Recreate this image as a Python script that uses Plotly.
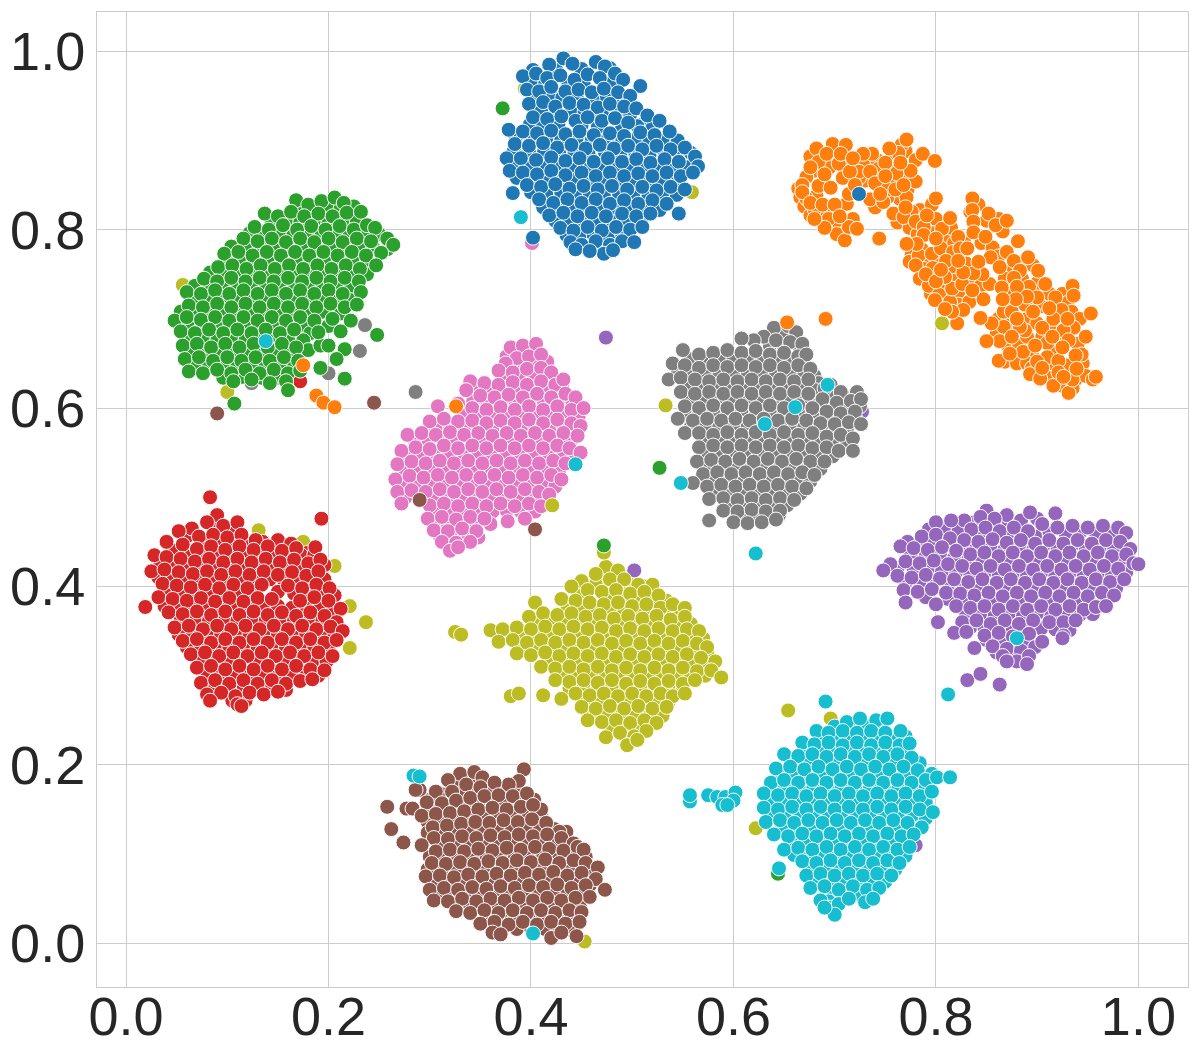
import plotly.graph_objects as go

# valores leidos a ojo de la figura, un grupo por clase
azul = [
    (.418,.985),(.432,.992),(.441,.986),(.464,.988),(.473,.983),(.392,.972),(.405,.975),(.416,.970),(.429,.973),(.443,.968),
    (.456,.974),(.468,.970),(.483,.975),(.491,.968),(.508,.961),(.396,.957),(.408,.955),(.420,.960),(.434,.955),(.447,.957),
    (.460,.954),(.472,.958),(.486,.954),(.498,.950),(.398,.941),(.412,.943),(.424,.938),(.438,.942),(.452,.940),(.466,.937),
    (.478,.941),(.492,.938),(.504,.936),(.402,.926),(.416,.924),(.430,.927),(.444,.922),(.456,.926),(.470,.922),(.483,.925),
    (.496,.920),(.515,.928),(.527,.922),(.378,.912),(.392,.910),(.406,.908),(.420,.911),(.434,.907),(.448,.910),(.462,.906),
    (.478,.908),(.492,.905),(.508,.909),(.522,.906),(.537,.910),(.384,.896),(.398,.894),(.412,.897),(.426,.892),(.440,.895),
    (.454,.891),(.468,.895),(.482,.891),(.496,.894),(.510,.890),(.524,.894),(.538,.890),(.552,.892),(.376,.880),(.390,.880),
    (.405,.878),(.420,.881),(.434,.877),(.448,.880),(.462,.876),(.476,.880),(.490,.876),(.504,.879),(.518,.875),(.532,.879),
    (.546,.876),(.562,.882),(.565,.871),(.379,.866),(.392,.864),(.406,.862),(.420,.866),(.434,.861),(.450,.864),(.464,.860),
    (.478,.864),(.492,.860),(.506,.863),(.520,.860),(.534,.864),(.548,.860),(.560,.864),(.396,.850),(.410,.848),(.424,.851),
    (.438,.846),(.452,.849),(.466,.845),(.480,.849),(.495,.845),(.510,.848),(.524,.844),(.538,.848),(.552,.845),(.382,.841),
    (.408,.834),(.422,.830),(.436,.834),(.450,.830),(.464,.834),(.478,.829),(.492,.833),(.506,.829),(.520,.833),(.534,.829),
    (.418,.816),(.432,.819),(.446,.815),(.460,.819),(.474,.815),(.490,.818),(.504,.815),(.518,.818),(.546,.818),(.402,.791),
    (.429,.802),(.442,.799),(.456,.803),(.470,.799),(.484,.803),(.498,.800),(.510,.803),(.439,.786),(.450,.783),(.464,.787),
    (.478,.783),(.490,.787),(.502,.786),(.472,.773),(.444,.778),(.458,.776),(.481,.777),(.724,.840),
]
azul_b = [
    (.402,.979),(.425,.979),(.450,.980),(.478,.981),(.400,.964),(.414,.964),(.437,.963),(.452,.964),(.480,.965),(.403,.948),
    (.418,.949),(.431,.948),(.445,.949),(.462,.947),(.475,.949),(.490,.946),(.410,.933),(.425,.932),(.440,.933),(.453,.932),
    (.470,.930),(.485,.932),(.498,.929),(.510,.918),(.399,.918),(.412,.917),(.427,.918),(.450,.917),(.466,.915),(.490,.914),
    (.505,.916),(.520,.914),(.385,.904),(.400,.903),(.415,.902),(.430,.901),(.445,.902),(.460,.900),(.475,.901),(.490,.899),
    (.503,.901),(.517,.899),(.530,.901),(.545,.900),(.383,.888),(.398,.887),(.413,.888),(.428,.885),(.443,.887),(.457,.884),
    (.473,.887),(.488,.884),(.503,.886),(.517,.883),(.532,.886),(.547,.884),(.558,.886),(.384,.872),(.398,.871),(.413,.870),
    (.427,.871),(.442,.869),(.457,.869),(.471,.871),(.485,.868),(.499,.870),(.513,.868),(.527,.870),(.541,.868),(.555,.870),
    (.386,.858),(.400,.856),(.415,.856),(.430,.854),(.444,.856),(.458,.853),(.472,.855),(.486,.853),(.500,.855),(.515,.853),
    (.529,.855),(.543,.853),(.400,.842),(.415,.840),(.430,.841),(.444,.838),(.458,.840),(.472,.838),(.487,.840),(.501,.837),
    (.516,.839),(.530,.837),(.544,.839),(.412,.825),(.428,.825),(.442,.823),(.456,.825),(.470,.822),(.484,.824),(.498,.822),
    (.512,.825),(.527,.822),(.424,.810),(.438,.808),(.452,.810),(.466,.807),(.480,.809),(.494,.807),(.509,.810),(.435,.794),
    (.448,.792),(.462,.794),(.476,.791),(.490,.795),(.466,.780),
]
naranja = [
    (.682,.891),(.698,.896),(.711,.895),(.684,.876),(.704,.874),(.672,.859),(.684,.849),(.696,.847),(.672,.835),(.680,.823),
    (.694,.812),(.702,.795),(.710,.788),(.714,.803),(.722,.801),(.712,.829),(.714,.840),(.724,.865),(.735,.865),(.737,.885),
    (.728,.885),(.715,.865),(.740,.852),(.752,.845),(.735,.834),(.748,.831),(.771,.836),(.780,.854),(.775,.866),(.761,.863),
    (.763,.886),(.754,.891),(.771,.901),(.787,.885),(.799,.877),(.758,.818),(.768,.814),(.780,.809),(.744,.790),(.668,.850),
    (.676,.870),(.690,.862),(.668,.842),(.676,.830),(.688,.828),(.700,.828),(.690,.802),(.680,.812),(.705,.815),(.692,.885),
    (.706,.885),(.718,.880),(.750,.875),(.765,.875),(.750,.860),(.760,.845),(.768,.850),(.745,.840),(.720,.850),(.770,.825),
    (.796,.828),(.800,.835),(.788,.803),(.788,.794),(.791,.816),(.806,.801),(.814,.813),(.822,.792),(.836,.835),(.836,.822),
    (.852,.818),(.837,.809),(.837,.797),(.849,.792),(.859,.805),(.870,.810),(.881,.787),(.870,.775),(.854,.769),(.863,.758),
    (.877,.765),(.883,.754),(.891,.769),(.901,.754),(.877,.746),(.892,.736),(.880,.736),(.908,.739),(.900,.724),(.888,.716),
    (.918,.724),(.935,.737),(.936,.726),(.924,.710),(.953,.706),(.916,.700),(.936,.690),(.926,.687),(.948,.680),(.931,.676),
    (.938,.659),(.910,.673),(.910,.657),(.888,.687),(.883,.691),(.867,.708),(.875,.708),(.896,.708),(.867,.691),(.863,.675),
    (.850,.675),(.855,.695),(.844,.701),(.821,.695),(.862,.653),(.886,.663),(.873,.661),(.893,.638),(.903,.633),(.916,.625),
    (.931,.617),(.935,.632),(.921,.653),(.921,.640),(.939,.644),(.958,.635),(.926,.635),(.900,.652),(.783,.771),(.781,.784),
    (.771,.784),(.796,.773),(.805,.779),(.817,.775),(.797,.757),(.816,.759),(.780,.760),(.784,.745),(.793,.737),(.803,.727),
    (.799,.721),(.814,.719),(.816,.734),(.826,.739),(.809,.747),(.833,.719),(.847,.722),(.853,.739),(.846,.750),(.837,.751),
    (.842,.764),(.827,.752),(.827,.710),(.816,.708),(.809,.711),(.836,.732),(.824,.779),(.831,.779),(.800,.790),(.810,.765),
    (.790,.750),(.800,.742),(.822,.765),(.805,.755),(.880,.700),(.890,.725),(.905,.690),(.912,.712),(.925,.668),(.898,.670),
    (.875,.680),(.905,.645),(.915,.680),(.930,.700),(.879,.722),(.865,.735),(.866,.722),(.653,.696),(.691,.700),(.188,.614),
    (.195,.606),(.206,.601),(.326,.602),(.175,.648),
]
naranja_b = [
    (.676,.882),(.690,.880),(.680,.866),(.695,.870),(.710,.880),(.722,.874),(.730,.875),(.742,.878),(.756,.880),(.770,.888),
    (.766,.895),(.780,.878),(.743,.868),(.757,.870),(.768,.858),(.730,.855),(.745,.848),(.758,.852),(.772,.845),(.764,.835),
    (.752,.836),(.740,.825),(.724,.858),(.708,.858),(.664,.846),(.666,.836),(.670,.826),(.682,.838),(.676,.816),(.686,.818),
    (.698,.820),(.696,.803),(.706,.803),(.702,.810),(.718,.812),(.784,.822),(.776,.820),(.762,.808),(.774,.802),(.782,.795),
    (.793,.808),(.800,.812),(.808,.790),(.796,.796),(.815,.802),(.818,.785),(.828,.785),(.786,.778),(.776,.772),(.790,.766),
    (.803,.768),(.812,.770),(.774,.764),(.788,.756),(.806,.740),(.820,.746),(.830,.762),(.822,.730),(.795,.728),(.808,.725),
    (.822,.716),(.838,.742),(.845,.738),(.838,.725),(.834,.820),(.842,.828),(.850,.810),(.862,.812),(.866,.798),(.845,.785),
    (.856,.780),(.862,.770),(.874,.755),(.886,.762),(.896,.760),(.868,.745),(.872,.730),(.885,.745),(.900,.740),(.912,.728),
    (.925,.728),(.930,.718),(.894,.722),(.904,.714),(.918,.712),(.934,.708),(.942,.700),(.872,.715),(.862,.700),(.874,.695),
    (.890,.700),(.900,.695),(.912,.692),(.928,.680),(.940,.672),(.905,.680),(.918,.668),(.895,.660),(.860,.683),(.871,.670),
    (.882,.672),(.890,.680),(.868,.652),(.880,.650),(.890,.650),(.912,.646),(.928,.648),(.938,.632),(.945,.650),(.912,.634),
    (.903,.642),(.895,.645),(.925,.625),(.935,.622),(.948,.636),(.944,.660),(.955,.632),
]
verde = [
    (.168,.833),(.180,.828),(.193,.832),(.206,.836),(.215,.830),(.137,.818),(.150,.815),(.163,.820),(.176,.815),(.190,.818),
    (.204,.815),(.218,.819),(.232,.820),(.127,.803),(.141,.800),(.155,.805),(.169,.800),(.183,.804),(.197,.800),(.211,.804),
    (.225,.800),(.238,.805),(.246,.802),(.116,.790),(.130,.787),(.144,.790),(.158,.786),(.172,.790),(.186,.786),(.200,.790),
    (.214,.786),(.228,.790),(.242,.787),(.258,.790),(.264,.783),(.097,.773),(.111,.775),(.125,.771),(.139,.775),(.153,.771),
    (.167,.775),(.181,.771),(.195,.775),(.209,.771),(.223,.775),(.237,.771),(.252,.774),(.091,.758),(.105,.760),(.119,.756),
    (.133,.760),(.147,.756),(.161,.760),(.175,.756),(.189,.760),(.203,.756),(.217,.760),(.231,.756),(.247,.760),(.077,.745),
    (.090,.742),(.104,.746),(.118,.742),(.132,.746),(.146,.742),(.160,.746),(.174,.742),(.188,.746),(.202,.742),(.216,.746),
    (.230,.742),(.060,.730),(.074,.728),(.088,.732),(.102,.728),(.116,.732),(.130,.728),(.144,.732),(.158,.728),(.172,.732),
    (.186,.728),(.200,.732),(.214,.728),(.232,.730),(.062,.715),(.076,.713),(.090,.717),(.104,.713),(.118,.717),(.132,.713),
    (.146,.717),(.160,.713),(.174,.717),(.188,.713),(.202,.717),(.216,.713),(.228,.716),(.048,.698),(.060,.702),(.074,.699),
    (.088,.702),(.102,.698),(.116,.702),(.130,.698),(.144,.702),(.158,.698),(.172,.702),(.186,.698),(.204,.700),(.222,.698),
    (.054,.686),(.068,.684),(.082,.688),(.096,.684),(.110,.688),(.124,.684),(.138,.688),(.152,.684),(.166,.688),(.190,.685),
    (.212,.686),(.056,.670),(.070,.672),(.084,.668),(.098,.672),(.112,.668),(.126,.672),(.140,.668),(.154,.672),(.168,.668),
    (.200,.670),(.216,.666),(.058,.655),(.072,.657),(.086,.653),(.100,.657),(.114,.653),(.128,.657),(.142,.653),(.156,.657),
    (.170,.653),(.208,.655),(.062,.641),(.076,.639),(.090,.643),(.104,.639),(.118,.643),(.132,.639),(.146,.643),(.160,.639),
    (.172,.642),(.192,.645),(.216,.633),(.248,.682),(.106,.630),(.124,.632),(.142,.628),(.158,.630),(.160,.620),(.107,.605),
    (.472,.446),(.527,.533),(.372,.936),(.644,.078),
]
verde_b = [
    (.174,.824),(.187,.824),(.200,.826),(.212,.824),(.225,.826),(.144,.808),(.158,.810),(.172,.808),(.186,.811),(.200,.808),
    (.214,.811),(.228,.810),(.122,.796),(.137,.794),(.151,.797),(.165,.793),(.179,.797),(.193,.794),(.207,.797),(.221,.794),
    (.235,.797),(.250,.795),(.104,.781),(.118,.781),(.132,.781),(.146,.781),(.160,.780),(.174,.782),(.188,.780),(.202,.782),
    (.216,.780),(.230,.782),(.244,.780),(.258,.778),(.098,.766),(.112,.766),(.126,.765),(.140,.767),(.154,.764),(.168,.766),
    (.182,.764),(.196,.766),(.210,.764),(.224,.766),(.238,.764),(.083,.752),(.097,.750),(.111,.752),(.125,.750),(.139,.752),
    (.153,.750),(.167,.752),(.181,.750),(.195,.752),(.209,.750),(.223,.751),(.238,.750),(.068,.737),(.082,.736),(.096,.738),
    (.110,.736),(.124,.738),(.138,.736),(.152,.738),(.166,.736),(.180,.738),(.194,.736),(.208,.738),(.222,.736),(.068,.722),
    (.082,.721),(.096,.723),(.110,.721),(.124,.723),(.138,.721),(.152,.723),(.166,.721),(.180,.723),(.194,.721),(.208,.723),
    (.222,.721),(.054,.708),(.068,.707),(.082,.709),(.096,.706),(.110,.708),(.124,.706),(.138,.708),(.152,.706),(.166,.708),
    (.180,.706),(.194,.708),(.212,.706),(.061,.692),(.075,.692),(.089,.693),(.103,.691),(.117,.693),(.131,.691),(.145,.693),
    (.159,.691),(.173,.693),(.182,.684),(.200,.692),(.062,.677),(.076,.678),(.090,.676),(.104,.678),(.118,.676),(.132,.678),
    (.146,.676),(.160,.678),(.175,.676),(.066,.664),(.080,.662),(.094,.664),(.108,.662),(.122,.664),(.136,.662),(.150,.664),
    (.164,.662),(.180,.665),(.192,.670),(.068,.648),(.082,.648),(.096,.648),(.110,.648),(.124,.648),(.138,.647),(.152,.648),
    (.166,.647),(.096,.634),(.115,.635),(.134,.634),(.150,.634),
]
rojo = [
    (.083,.500),(.193,.476),(.019,.377),(.090,.480),(.080,.472),(.096,.468),(.110,.472),(.065,.465),(.052,.462),(.072,.456),
    (.086,.458),(.100,.455),(.114,.458),(.128,.452),(.150,.452),(.163,.448),(.040,.450),(.056,.447),(.070,.442),(.084,.445),
    (.098,.441),(.112,.445),(.126,.441),(.140,.445),(.154,.440),(.168,.443),(.187,.444),(.028,.435),(.040,.433),(.054,.431),
    (.068,.428),(.082,.431),(.096,.427),(.110,.431),(.124,.427),(.138,.431),(.152,.427),(.166,.430),(.180,.426),(.192,.430),
    (.025,.417),(.038,.419),(.052,.416),(.066,.414),(.080,.417),(.094,.413),(.108,.417),(.122,.413),(.136,.417),(.150,.413),
    (.164,.416),(.178,.412),(.190,.417),(.036,.403),(.050,.401),(.064,.399),(.078,.402),(.092,.398),(.106,.402),(.120,.398),
    (.134,.402),(.160,.401),(.174,.398),(.188,.402),(.201,.398),(.032,.388),(.046,.386),(.060,.384),(.074,.387),(.088,.383),
    (.102,.387),(.116,.383),(.130,.387),(.144,.386),(.172,.384),(.186,.388),(.200,.384),(.212,.375),(.042,.371),(.056,.369),
    (.070,.372),(.084,.368),(.098,.372),(.112,.368),(.126,.372),(.140,.368),(.154,.371),(.168,.367),(.182,.371),(.196,.367),
    (.208,.360),(.048,.354),(.062,.356),(.076,.352),(.090,.356),(.104,.352),(.118,.356),(.132,.352),(.146,.356),(.160,.352),
    (.174,.356),(.188,.352),(.202,.355),(.214,.350),(.056,.339),(.070,.341),(.084,.337),(.098,.341),(.112,.337),(.126,.341),
    (.140,.337),(.154,.341),(.168,.337),(.182,.341),(.196,.337),(.208,.340),(.064,.324),(.078,.326),(.092,.322),(.106,.326),
    (.120,.322),(.134,.326),(.148,.322),(.162,.326),(.176,.322),(.190,.326),(.204,.322),(.070,.309),(.084,.311),(.098,.307),
    (.112,.311),(.126,.307),(.140,.311),(.154,.307),(.168,.311),(.182,.307),(.196,.306),(.074,.292),(.088,.295),(.102,.291),
    (.116,.295),(.130,.291),(.144,.295),(.158,.291),(.172,.294),(.184,.296),(.080,.279),(.094,.281),(.108,.277),(.122,.281),
    (.136,.279),(.150,.282),(.083,.272),(.110,.268),(.114,.266),(.172,.630),
]
rojo_b = [
    (.088,.465),(.104,.464),(.060,.456),(.079,.450),(.093,.450),(.107,.449),(.121,.449),(.135,.450),(.147,.446),(.160,.438),
    (.180,.438),(.048,.440),(.062,.438),(.076,.436),(.090,.437),(.104,.436),(.118,.437),(.132,.436),(.146,.437),(.160,.422),
    (.173,.435),(.186,.436),(.034,.426),(.047,.424),(.060,.422),(.074,.422),(.088,.423),(.102,.421),(.116,.423),(.130,.421),
    (.144,.423),(.172,.421),(.184,.420),(.196,.424),(.032,.410),(.045,.410),(.058,.408),(.072,.408),(.086,.408),(.100,.408),
    (.114,.408),(.128,.407),(.142,.408),(.156,.407),(.170,.406),(.182,.406),(.196,.408),(.040,.394),(.054,.392),(.068,.393),
    (.082,.393),(.096,.392),(.110,.393),(.124,.392),(.150,.394),(.166,.392),(.180,.394),(.194,.392),(.206,.390),(.038,.378),
    (.052,.378),(.066,.378),(.080,.378),(.094,.378),(.108,.378),(.122,.378),(.136,.378),(.150,.378),(.164,.376),(.178,.378),
    (.192,.378),(.204,.374),(.054,.362),(.068,.362),(.082,.362),(.096,.364),(.110,.362),(.124,.363),(.138,.362),(.152,.364),
    (.166,.362),(.180,.363),(.194,.362),(.052,.346),(.066,.347),(.080,.346),(.094,.347),(.108,.346),(.122,.347),(.136,.346),
    (.150,.347),(.164,.346),(.178,.347),(.192,.346),(.206,.346),(.060,.332),(.074,.332),(.088,.332),(.102,.332),(.116,.331),
    (.130,.332),(.144,.331),(.158,.332),(.172,.331),(.186,.332),(.200,.331),(.072,.318),(.086,.317),(.100,.317),(.114,.317),
    (.128,.316),(.142,.317),(.156,.316),(.170,.317),(.184,.316),(.198,.316),(.080,.302),(.094,.301),(.108,.301),(.122,.300),
    (.136,.301),(.150,.300),(.164,.301),(.178,.300),(.190,.300),(.088,.287),(.102,.285),(.116,.285),(.130,.285),(.144,.286),
    (.158,.284),(.105,.272),(.118,.272),
]
morado = [
    (.850,.485),(.870,.480),(.844,.478),(.858,.476),(.884,.474),(.893,.483),(.918,.482),(.905,.470),(.828,.474),(.815,.474),
    (.800,.472),(.835,.464),(.849,.466),(.863,.462),(.877,.466),(.891,.462),(.920,.466),(.935,.468),(.950,.466),(.965,.468),
    (.980,.466),(.988,.460),(.786,.456),(.800,.458),(.814,.454),(.828,.452),(.842,.450),(.856,.453),(.870,.449),(.884,.452),
    (.898,.448),(.912,.452),(.926,.448),(.940,.452),(.954,.448),(.968,.452),(.982,.450),(.992,.442),(.765,.445),(.778,.443),
    (.792,.441),(.806,.444),(.820,.440),(.834,.436),(.848,.438),(.862,.434),(.876,.438),(.890,.434),(.904,.438),(.918,.434),
    (.932,.438),(.946,.434),(.960,.438),(.974,.434),(.988,.436),(.755,.425),(.770,.428),(.784,.426),(.798,.429),(.812,.425),
    (.826,.423),(.840,.420),(.854,.423),(.868,.419),(.882,.423),(.896,.419),(.910,.423),(.924,.419),(.938,.423),(.952,.419),
    (.966,.423),(.980,.420),(.995,.426),(1.000,.425),(.748,.418),(.762,.412),(.776,.410),(.790,.413),(.804,.409),(.818,.408),
    (.832,.405),(.846,.408),(.860,.404),(.874,.408),(.888,.404),(.902,.408),(.916,.404),(.930,.408),(.944,.404),(.958,.408),
    (.972,.405),(.986,.408),(.768,.396),(.782,.394),(.796,.397),(.810,.393),(.824,.392),(.838,.390),(.852,.393),(.866,.389),
    (.880,.393),(.894,.389),(.908,.393),(.922,.389),(.936,.393),(.950,.389),(.964,.393),(.976,.390),(.770,.382),(.800,.380),
    (.820,.378),(.834,.376),(.848,.378),(.862,.374),(.876,.378),(.890,.374),(.904,.378),(.918,.374),(.932,.378),(.946,.374),
    (.958,.377),(.968,.378),(.802,.360),(.826,.360),(.840,.362),(.854,.358),(.868,.362),(.882,.358),(.896,.362),(.912,.360),
    (.926,.360),(.938,.362),(.818,.348),(.830,.349),(.848,.345),(.862,.348),(.876,.344),(.892,.347),(.926,.345),(.925,.342),
    (.838,.331),(.856,.333),(.870,.330),(.884,.328),(.898,.332),(.905,.338),(.866,.322),(.880,.316),(.892,.322),(.890,.313),
    (.870,.316),(.831,.295),(.844,.302),(.863,.290),(.474,.679),(.727,.596),(.780,.110),(.502,.418),
]
morado_b = [
    (.838,.472),(.856,.470),(.872,.472),(.900,.476),(.912,.462),(.928,.460),(.942,.460),(.958,.460),(.972,.460),(.822,.464),
    (.808,.466),(.793,.464),(.842,.458),(.856,.460),(.870,.457),(.884,.460),(.898,.456),(.906,.445),(.920,.444),(.934,.445),
    (.948,.442),(.962,.444),(.976,.444),(.772,.450),(.785,.449),(.798,.450),(.812,.447),(.826,.445),(.840,.444),(.854,.445),
    (.868,.442),(.882,.445),(.896,.441),(.775,.435),(.790,.434),(.804,.436),(.818,.432),(.832,.430),(.846,.429),(.860,.428),
    (.874,.431),(.888,.428),(.902,.431),(.916,.428),(.930,.431),(.944,.428),(.958,.430),(.972,.428),(.986,.428),(.762,.420),
    (.778,.419),(.792,.420),(.806,.417),(.820,.416),(.834,.414),(.848,.415),(.862,.412),(.876,.415),(.890,.412),(.904,.415),
    (.918,.412),(.932,.415),(.946,.412),(.960,.415),(.974,.413),(.988,.416),(.770,.404),(.784,.403),(.798,.405),(.812,.402),
    (.826,.400),(.840,.398),(.854,.400),(.868,.397),(.882,.400),(.896,.397),(.910,.400),(.924,.397),(.938,.400),(.952,.397),
    (.966,.400),(.978,.398),(.790,.388),(.812,.386),(.826,.384),(.840,.383),(.854,.385),(.868,.382),(.882,.385),(.896,.382),
    (.910,.385),(.924,.382),(.938,.385),(.952,.382),(.966,.385),(.830,.369),(.844,.370),(.858,.367),(.872,.370),(.886,.367),
    (.900,.370),(.914,.367),(.928,.368),(.942,.368),(.955,.369),(.834,.354),(.848,.353),(.862,.355),(.876,.352),(.890,.354),
    (.904,.353),(.918,.352),(.932,.351),(.850,.340),(.864,.340),(.878,.337),(.892,.338),(.876,.322),(.860,.326),(.886,.320),
]
marron = [
    (.330,.190),(.344,.192),(.352,.186),(.336,.178),(.318,.183),(.393,.195),(.388,.182),(.378,.178),(.364,.180),(.350,.175),
    (.322,.170),(.306,.170),(.290,.172),(.286,.172),(.258,.153),(.277,.151),(.283,.151),(.297,.158),(.312,.157),(.326,.160),
    (.340,.163),(.354,.165),(.368,.166),(.382,.165),(.396,.168),(.410,.150),(.292,.143),(.306,.145),(.320,.146),(.334,.148),
    (.348,.150),(.362,.152),(.376,.150),(.390,.153),(.402,.155),(.262,.128),(.274,.113),(.303,.130),(.317,.132),(.331,.134),
    (.345,.136),(.359,.135),(.373,.138),(.387,.136),(.401,.139),(.415,.135),(.428,.125),(.304,.118),(.318,.117),(.332,.120),
    (.346,.118),(.360,.121),(.374,.119),(.388,.122),(.402,.120),(.416,.122),(.430,.118),(.442,.112),(.292,.110),(.306,.103),
    (.320,.105),(.334,.103),(.348,.106),(.362,.104),(.376,.107),(.390,.105),(.404,.108),(.418,.106),(.432,.104),(.446,.108),
    (.452,.105),(.302,.090),(.316,.089),(.330,.091),(.344,.089),(.358,.092),(.372,.090),(.386,.093),(.400,.091),(.414,.094),
    (.428,.090),(.442,.093),(.454,.090),(.466,.085),(.296,.075),(.310,.076),(.324,.074),(.338,.077),(.352,.075),(.366,.078),
    (.380,.076),(.394,.079),(.408,.077),(.422,.080),(.436,.076),(.450,.079),(.464,.072),(.300,.060),(.314,.062),(.328,.060),
    (.342,.063),(.356,.061),(.370,.064),(.384,.062),(.398,.065),(.412,.063),(.426,.066),(.440,.062),(.454,.065),(.473,.060),
    (.458,.052),(.304,.048),(.318,.047),(.332,.050),(.346,.047),(.360,.050),(.374,.048),(.388,.051),(.402,.048),(.416,.051),
    (.430,.048),(.444,.051),(.326,.036),(.340,.034),(.354,.037),(.368,.034),(.382,.037),(.396,.034),(.410,.037),(.424,.034),
    (.438,.037),(.450,.035),(.350,.022),(.364,.024),(.378,.021),(.392,.024),(.406,.021),(.420,.024),(.434,.022),(.448,.024),
    (.362,.012),(.370,.010),(.420,.006),(.430,.012),(.445,.008),(.290,.497),(.404,.464),(.090,.594),(.245,.606),
]
marron_b = [
    (.325,.180),(.343,.184),(.358,.172),(.372,.172),(.384,.172),(.312,.167),(.330,.168),(.345,.170),(.302,.162),(.319,.152),
    (.334,.155),(.348,.158),(.362,.158),(.375,.158),(.389,.160),(.403,.161),(.300,.150),(.313,.140),(.327,.141),(.341,.142),
    (.355,.144),(.369,.144),(.383,.144),(.397,.146),(.410,.142),(.298,.136),(.311,.125),(.325,.126),(.339,.127),(.353,.128),
    (.367,.129),(.381,.129),(.395,.130),(.409,.128),(.423,.128),(.435,.125),(.298,.124),(.312,.111),(.326,.112),(.340,.111),
    (.354,.113),(.368,.112),(.382,.114),(.396,.113),(.410,.114),(.424,.113),(.438,.110),(.300,.097),(.314,.097),(.328,.098),
    (.342,.097),(.356,.098),(.370,.098),(.384,.099),(.398,.099),(.412,.100),(.426,.098),(.440,.100),(.454,.097),(.298,.083),
    (.312,.083),(.326,.083),(.340,.083),(.354,.084),(.368,.084),(.382,.085),(.396,.085),(.410,.086),(.424,.085),(.438,.086),
    (.452,.084),(.462,.078),(.306,.068),(.320,.068),(.334,.069),(.348,.068),(.362,.070),(.376,.070),(.390,.071),(.404,.071),
    (.418,.072),(.432,.071),(.446,.072),(.458,.065),(.310,.054),(.324,.054),(.338,.056),(.352,.055),(.366,.057),(.380,.056),
    (.394,.058),(.408,.056),(.422,.058),(.436,.056),(.450,.057),(.326,.042),(.340,.042),(.354,.044),(.368,.042),(.382,.044),
    (.396,.042),(.410,.044),(.424,.041),(.438,.044),(.448,.042),(.356,.030),(.370,.028),(.384,.030),(.398,.028),(.412,.030),
    (.426,.028),(.440,.030),(.372,.017),(.386,.016),(.400,.017),(.414,.016),(.428,.017),(.440,.015),
]
rosa = [
    (.380,.668),(.392,.670),(.405,.672),(.386,.656),(.398,.658),(.410,.660),(.375,.650),(.368,.642),(.382,.640),(.396,.644),
    (.410,.645),(.420,.640),(.340,.630),(.354,.628),(.368,.626),(.382,.629),(.396,.626),(.410,.630),(.424,.626),(.432,.632),
    (.336,.620),(.350,.614),(.364,.612),(.378,.615),(.392,.612),(.406,.616),(.420,.612),(.434,.616),(.444,.612),(.328,.605),
    (.342,.600),(.356,.598),(.370,.601),(.384,.598),(.398,.602),(.412,.598),(.426,.602),(.440,.598),(.452,.600),(.308,.602),
    (.300,.585),(.314,.588),(.328,.585),(.342,.586),(.356,.583),(.370,.586),(.384,.583),(.398,.587),(.412,.583),(.426,.587),
    (.440,.583),(.449,.580),(.278,.570),(.292,.572),(.306,.570),(.320,.573),(.334,.570),(.348,.572),(.362,.569),(.376,.572),
    (.390,.569),(.404,.572),(.418,.569),(.432,.572),(.446,.569),(.272,.552),(.286,.556),(.300,.554),(.314,.558),(.328,.555),
    (.342,.558),(.356,.555),(.370,.558),(.384,.555),(.398,.558),(.412,.555),(.426,.558),(.438,.555),(.449,.550),(.268,.537),
    (.282,.540),(.296,.538),(.310,.541),(.324,.538),(.338,.541),(.352,.538),(.366,.541),(.380,.538),(.394,.541),(.408,.538),
    (.422,.541),(.434,.538),(.266,.520),(.280,.524),(.294,.522),(.308,.525),(.322,.522),(.336,.525),(.350,.522),(.364,.525),
    (.378,.522),(.392,.525),(.406,.522),(.420,.525),(.430,.520),(.268,.506),(.282,.508),(.296,.506),(.310,.509),(.324,.506),
    (.338,.509),(.352,.506),(.366,.509),(.380,.506),(.394,.509),(.408,.506),(.418,.503),(.272,.493),(.300,.491),(.314,.493),
    (.328,.490),(.342,.493),(.356,.490),(.370,.493),(.384,.490),(.398,.493),(.410,.490),(.298,.476),(.312,.478),(.326,.475),
    (.340,.478),(.354,.476),(.377,.473),(.394,.476),(.304,.463),(.318,.462),(.332,.465),(.346,.462),(.312,.450),(.326,.449),
    (.340,.450),(.320,.440),(.328,.444),(.401,.785),
]
rosa_b = [
    (.386,.664),(.400,.664),(.376,.658),(.392,.650),(.404,.650),(.416,.652),(.375,.635),(.389,.635),(.403,.636),(.417,.634),
    (.347,.622),(.361,.620),(.375,.622),(.389,.620),(.403,.622),(.417,.620),(.431,.622),(.343,.608),(.357,.606),(.371,.608),
    (.385,.606),(.399,.609),(.413,.606),(.427,.609),(.441,.606),(.335,.594),(.349,.592),(.363,.592),(.377,.594),(.391,.592),
    (.405,.595),(.419,.592),(.433,.594),(.447,.590),(.306,.578),(.320,.580),(.334,.578),(.348,.579),(.362,.577),(.376,.579),
    (.390,.577),(.404,.580),(.418,.577),(.432,.580),(.446,.577),(.285,.564),(.299,.563),(.313,.565),(.327,.563),(.341,.565),
    (.355,.563),(.369,.565),(.383,.563),(.397,.565),(.411,.563),(.425,.565),(.439,.563),(.278,.546),(.292,.547),(.306,.548),
    (.320,.549),(.334,.548),(.348,.548),(.362,.548),(.376,.548),(.390,.548),(.404,.548),(.418,.548),(.432,.546),(.444,.545),
    (.274,.530),(.288,.532),(.302,.531),(.316,.532),(.330,.530),(.344,.532),(.358,.530),(.372,.532),(.386,.530),(.400,.532),
    (.414,.530),(.428,.531),(.272,.514),(.286,.515),(.300,.514),(.314,.516),(.328,.514),(.342,.516),(.356,.514),(.370,.516),
    (.384,.514),(.398,.516),(.412,.514),(.424,.512),(.276,.500),(.290,.500),(.304,.499),(.318,.500),(.332,.498),(.346,.500),
    (.360,.498),(.374,.500),(.388,.498),(.402,.500),(.414,.497),(.306,.484),(.320,.484),(.334,.484),(.348,.485),(.362,.484),
    (.376,.485),(.390,.484),(.404,.484),(.305,.470),(.318,.470),(.332,.470),(.346,.470),(.360,.470),(.310,.456),(.324,.456),
    (.338,.457),(.348,.455),
]
gris = [
    (.640,.690),(.654,.692),(.662,.685),(.630,.680),(.620,.676),(.608,.678),(.642,.676),(.656,.674),(.668,.672),(.550,.665),
    (.566,.660),(.580,.662),(.594,.665),(.608,.662),(.622,.664),(.636,.660),(.650,.662),(.664,.658),(.672,.660),(.540,.650),
    (.552,.648),(.566,.645),(.580,.648),(.594,.646),(.608,.648),(.622,.646),(.636,.648),(.650,.645),(.664,.648),(.676,.644),
    (.536,.632),(.548,.634),(.562,.632),(.576,.630),(.590,.632),(.604,.630),(.618,.632),(.632,.630),(.646,.632),(.660,.630),
    (.674,.632),(.690,.622),(.706,.618),(.722,.618),(.548,.618),(.562,.616),(.576,.618),(.590,.616),(.604,.618),(.618,.616),
    (.632,.618),(.646,.616),(.660,.618),(.674,.616),(.688,.610),(.702,.606),(.716,.608),(.726,.610),(.552,.602),(.566,.600),
    (.580,.603),(.594,.600),(.608,.603),(.622,.600),(.636,.603),(.650,.600),(.664,.603),(.678,.600),(.692,.596),(.706,.594),
    (.720,.596),(.545,.588),(.560,.586),(.574,.588),(.588,.586),(.602,.588),(.616,.586),(.630,.588),(.644,.586),(.658,.588),
    (.672,.586),(.686,.583),(.700,.582),(.714,.584),(.726,.582),(.552,.572),(.566,.572),(.580,.570),(.594,.573),(.608,.570),
    (.622,.573),(.636,.570),(.650,.573),(.664,.570),(.678,.572),(.692,.568),(.706,.570),(.718,.566),(.566,.556),(.580,.558),
    (.594,.556),(.608,.558),(.622,.556),(.636,.558),(.650,.556),(.664,.558),(.678,.555),(.692,.556),(.704,.552),(.718,.552),
    (.564,.540),(.578,.542),(.592,.540),(.606,.543),(.620,.540),(.634,.543),(.648,.540),(.662,.543),(.676,.540),(.690,.540),
    (.570,.526),(.584,.528),(.598,.526),(.612,.528),(.626,.526),(.640,.528),(.654,.526),(.668,.528),(.680,.525),(.560,.516),
    (.574,.512),(.588,.514),(.602,.512),(.616,.514),(.630,.512),(.644,.514),(.658,.512),(.672,.510),(.576,.498),(.590,.499),
    (.604,.497),(.618,.499),(.632,.497),(.646,.499),(.660,.497),(.590,.485),(.604,.484),(.618,.486),(.632,.484),(.646,.485),
    (.576,.474),(.600,.472),(.614,.471),(.628,.472),(.642,.475),(.286,.618),(.236,.693),(.231,.664),(.200,.639),(.124,.628),
]
gris_b = [
    (.648,.684),(.636,.670),(.650,.668),(.666,.666),(.556,.655),(.572,.654),(.586,.656),(.600,.655),(.614,.656),(.628,.654),
    (.642,.655),(.656,.653),(.670,.652),(.680,.636),(.545,.642),(.558,.640),(.572,.638),(.586,.640),(.600,.638),(.614,.640),
    (.628,.638),(.642,.640),(.656,.638),(.670,.638),(.684,.628),(.696,.626),(.555,.625),(.569,.624),(.583,.625),(.597,.624),
    (.611,.625),(.625,.624),(.639,.625),(.653,.624),(.667,.624),(.681,.620),(.698,.612),(.712,.612),(.558,.609),(.572,.609),
    (.586,.610),(.600,.609),(.614,.610),(.628,.609),(.642,.610),(.656,.609),(.670,.609),(.684,.604),(.712,.600),(.725,.602),
    (.552,.594),(.566,.593),(.580,.595),(.594,.593),(.608,.595),(.622,.593),(.636,.595),(.650,.593),(.664,.595),(.678,.593),
    (.692,.589),(.707,.588),(.720,.589),(.558,.579),(.572,.580),(.586,.579),(.600,.580),(.614,.579),(.628,.580),(.642,.579),
    (.656,.580),(.670,.579),(.684,.577),(.698,.576),(.712,.576),(.572,.564),(.586,.564),(.600,.565),(.614,.564),(.628,.565),
    (.642,.564),(.656,.565),(.670,.564),(.684,.563),(.698,.562),(.712,.560),(.572,.549),(.586,.549),(.600,.550),(.614,.549),
    (.628,.550),(.642,.549),(.656,.550),(.670,.548),(.684,.548),(.698,.546),(.576,.534),(.590,.534),(.604,.535),(.618,.534),
    (.632,.535),(.646,.534),(.660,.535),(.674,.533),(.686,.532),(.580,.520),(.594,.520),(.608,.521),(.622,.520),(.636,.520),
    (.650,.519),(.664,.519),(.676,.518),(.582,.506),(.596,.505),(.610,.505),(.624,.505),(.638,.505),(.652,.505),(.666,.504),
    (.597,.491),(.611,.491),(.625,.491),(.639,.491),(.653,.491),(.606,.478),(.620,.478),(.634,.478),(.645,.480),
]
oliva = [
    (.474,.422),(.486,.418),(.464,.414),(.450,.406),(.478,.408),(.492,.408),(.506,.402),(.520,.402),(.440,.400),(.456,.396),
    (.470,.394),(.484,.396),(.498,.392),(.512,.394),(.526,.390),(.404,.382),(.430,.386),(.444,.384),(.458,.382),(.472,.380),
    (.486,.382),(.500,.378),(.514,.380),(.528,.376),(.540,.380),(.552,.376),(.398,.366),(.412,.370),(.426,.368),(.440,.370),
    (.454,.366),(.468,.368),(.482,.364),(.496,.367),(.510,.364),(.524,.367),(.538,.363),(.552,.366),(.360,.351),(.372,.352),
    (.386,.354),(.400,.352),(.414,.355),(.428,.352),(.442,.355),(.456,.352),(.470,.354),(.484,.350),(.498,.353),(.512,.350),
    (.526,.353),(.540,.350),(.554,.352),(.566,.350),(.368,.338),(.382,.340),(.396,.337),(.410,.340),(.424,.337),(.438,.340),
    (.452,.337),(.466,.340),(.480,.336),(.494,.339),(.508,.336),(.522,.339),(.536,.336),(.550,.339),(.564,.336),(.574,.332),
    (.386,.325),(.400,.323),(.414,.326),(.428,.322),(.442,.325),(.456,.322),(.470,.325),(.484,.321),(.498,.324),(.512,.321),
    (.526,.324),(.540,.321),(.554,.324),(.568,.320),(.582,.316),(.410,.310),(.424,.308),(.438,.310),(.452,.307),(.466,.310),
    (.480,.306),(.494,.309),(.508,.306),(.522,.309),(.536,.306),(.550,.309),(.564,.305),(.578,.306),(.588,.298),(.424,.295),
    (.438,.293),(.452,.295),(.466,.292),(.480,.295),(.494,.291),(.508,.294),(.522,.291),(.536,.294),(.550,.291),(.562,.295),
    (.380,.277),(.388,.280),(.412,.278),(.430,.274),(.444,.280),(.458,.278),(.472,.280),(.486,.277),(.500,.280),(.514,.277),
    (.528,.280),(.540,.277),(.552,.280),(.450,.265),(.464,.263),(.478,.266),(.492,.263),(.506,.266),(.520,.263),(.534,.265),
    (.456,.250),(.470,.248),(.484,.250),(.498,.247),(.512,.250),(.524,.247),(.474,.231),(.488,.236),(.502,.232),(.514,.238),
    (.495,.222),(.505,.228),(.533,.603),(.394,.958),(.559,.842),(.806,.695),(.056,.738),(.100,.618),(.325,.349),(.331,.346),
    (.131,.463),(.175,.450),(.206,.423),(.221,.378),(.237,.360),(.221,.331),(.472,.438),(.421,.491),(.654,.261),(.696,.252),
    (.622,.129),(.453,.002),
]
oliva_b = [
    (.470,.412),(.484,.410),(.498,.402),(.512,.400),(.450,.392),(.464,.402),(.478,.388),(.492,.386),(.506,.386),(.520,.384),
    (.534,.384),(.436,.378),(.450,.376),(.464,.374),(.478,.373),(.492,.372),(.506,.372),(.520,.372),(.534,.370),(.546,.370),
    (.406,.362),(.420,.361),(.434,.362),(.448,.360),(.462,.360),(.476,.359),(.490,.360),(.504,.358),(.518,.360),(.532,.358),
    (.546,.358),(.558,.358),(.376,.345),(.390,.346),(.404,.345),(.418,.346),(.432,.345),(.446,.346),(.460,.345),(.474,.346),
    (.488,.344),(.502,.345),(.516,.344),(.530,.345),(.544,.344),(.558,.345),(.570,.342),(.392,.331),(.406,.332),(.420,.331),
    (.434,.331),(.448,.331),(.462,.332),(.476,.330),(.490,.331),(.504,.329),(.518,.331),(.532,.329),(.546,.330),(.560,.329),
    (.574,.326),(.420,.317),(.434,.316),(.448,.316),(.462,.317),(.476,.315),(.490,.316),(.504,.315),(.518,.316),(.532,.315),
    (.546,.316),(.560,.314),(.574,.313),(.432,.302),(.446,.301),(.460,.302),(.474,.300),(.488,.301),(.502,.300),(.516,.301),
    (.530,.300),(.544,.300),(.558,.300),(.572,.300),(.438,.286),(.452,.287),(.466,.286),(.480,.287),(.494,.285),(.508,.286),
    (.522,.285),(.536,.286),(.550,.285),(.452,.272),(.466,.271),(.480,.272),(.494,.270),(.508,.272),(.522,.270),(.536,.271),
    (.462,.257),(.476,.256),(.490,.257),(.504,.255),(.518,.256),(.530,.255),(.480,.241),(.494,.241),(.508,.241),(.498,.231),
]
cian = [
    (.691,.271),(.700,.243),(.712,.248),(.725,.252),(.741,.250),(.752,.252),(.682,.238),(.694,.236),(.708,.238),(.722,.236),
    (.736,.238),(.750,.236),(.765,.238),(.668,.225),(.680,.223),(.694,.225),(.708,.222),(.722,.225),(.736,.222),(.750,.225),
    (.764,.222),(.774,.224),(.650,.212),(.664,.210),(.678,.212),(.692,.209),(.706,.212),(.720,.209),(.734,.212),(.748,.209),
    (.762,.212),(.776,.208),(.642,.196),(.656,.198),(.670,.195),(.684,.198),(.698,.195),(.712,.198),(.726,.195),(.740,.198),
    (.754,.195),(.768,.198),(.782,.194),(.637,.180),(.650,.183),(.664,.180),(.678,.183),(.692,.180),(.706,.183),(.720,.180),
    (.734,.183),(.748,.180),(.762,.183),(.776,.180),(.790,.183),(.801,.186),(.814,.186),(.630,.168),(.644,.166),(.658,.168),
    (.672,.165),(.686,.168),(.700,.165),(.714,.168),(.728,.165),(.742,.168),(.756,.165),(.770,.168),(.784,.165),(.796,.170),
    (.630,.152),(.644,.150),(.658,.153),(.672,.150),(.686,.153),(.700,.150),(.714,.153),(.728,.150),(.742,.153),(.756,.150),
    (.770,.153),(.784,.150),(.797,.147),(.632,.136),(.646,.138),(.660,.135),(.674,.138),(.688,.135),(.702,.138),(.716,.135),
    (.730,.138),(.744,.135),(.758,.138),(.772,.135),(.786,.130),(.640,.122),(.654,.120),(.668,.123),(.682,.120),(.696,.123),
    (.710,.120),(.724,.123),(.738,.120),(.752,.123),(.766,.120),(.778,.122),(.650,.105),(.664,.107),(.678,.105),(.692,.108),
    (.706,.105),(.720,.108),(.734,.105),(.748,.108),(.762,.105),(.774,.108),(.645,.084),(.668,.092),(.682,.090),(.696,.093),
    (.710,.090),(.724,.093),(.738,.090),(.752,.093),(.764,.090),(.672,.076),(.686,.078),(.700,.076),(.714,.078),(.728,.076),
    (.742,.078),(.756,.076),(.676,.062),(.690,.064),(.704,.060),(.718,.064),(.732,.060),(.744,.062),(.686,.048),(.696,.040),
    (.704,.044),(.714,.050),(.730,.046),(.738,.050),(.700,.032),(.690,.040),(.557,.159),(.557,.166),(.575,.166),(.584,.164),
    (.592,.164),(.602,.169),(.600,.160),(.589,.155),(.594,.155),(.284,.188),(.290,.187),(.402,.011),(.880,.342),(.812,.279),
    (.390,.814),(.138,.675),(.444,.537),(.548,.516),(.622,.437),(.693,.626),(.631,.582),(.661,.601),
]
cian_b = [
    (.706,.242),(.718,.242),(.732,.244),(.746,.243),(.688,.231),(.702,.230),(.715,.231),(.729,.230),(.743,.231),(.757,.230),
    (.770,.232),(.672,.218),(.686,.217),(.700,.218),(.714,.216),(.728,.218),(.742,.216),(.756,.218),(.770,.216),(.658,.204),
    (.672,.203),(.686,.204),(.700,.203),(.714,.204),(.728,.203),(.742,.204),(.756,.203),(.770,.203),(.784,.202),(.645,.189),
    (.658,.190),(.672,.188),(.686,.190),(.700,.188),(.714,.190),(.728,.188),(.742,.190),(.756,.188),(.770,.190),(.784,.187),
    (.796,.190),(.638,.174),(.651,.175),(.665,.173),(.679,.175),(.693,.173),(.707,.175),(.721,.173),(.735,.175),(.749,.173),
    (.763,.175),(.777,.173),(.790,.175),(.637,.160),(.651,.159),(.665,.160),(.679,.158),(.693,.160),(.707,.158),(.721,.160),
    (.735,.158),(.749,.160),(.763,.158),(.777,.160),(.790,.158),(.637,.144),(.651,.144),(.665,.144),(.679,.144),(.693,.144),
    (.707,.144),(.721,.144),(.735,.144),(.749,.144),(.763,.144),(.777,.144),(.790,.140),(.648,.129),(.662,.128),(.676,.130),
    (.690,.128),(.704,.130),(.718,.128),(.732,.130),(.746,.128),(.760,.130),(.774,.128),(.658,.113),(.672,.114),(.686,.113),
    (.700,.114),(.714,.113),(.728,.114),(.742,.113),(.756,.114),(.770,.113),(.660,.099),(.675,.098),(.689,.099),(.703,.098),
    (.717,.099),(.731,.098),(.745,.099),(.759,.098),(.770,.098),(.678,.084),(.692,.085),(.706,.084),(.720,.085),(.734,.084),
    (.748,.085),(.760,.083),(.682,.070),(.696,.070),(.710,.070),(.724,.070),(.738,.070),(.750,.069),(.692,.055),(.706,.053),
    (.722,.055),(.736,.056),(.694,.047),
]

# color tab10 por clase, dos tandas de puntos en cada una
clases = [
    ("rosa", rosa_b + rosa, "#e377c2"),
    ("morado", morado_b + morado, "#9467bd"),
    ("gris", gris_b + gris, "#7f7f7f"),
    ("oliva", oliva_b + oliva, "#bcbd22"),
    ("rojo", rojo_b + rojo, "#d62728"),
    ("verde", verde_b + verde, "#2ca02c"),
    ("naranja", naranja_b + naranja, "#ff7f0e"),
    ("marron", marron_b + marron, "#8c564b"),
    ("azul", azul_b + azul, "#1f77b4"),
    ("cian", cian_b + cian, "#17becf"),
]

fig = go.Figure()
for nombre, puntos, color in clases:
    fig.add_trace(go.Scatter(
        x=[p[0] for p in puntos],
        y=[p[1] for p in puntos],
        mode="markers",
        name=nombre,
        marker=dict(size=15, color=color, line=dict(color="white", width=1)),
    ))

eje = dict(
    showgrid=True,
    gridcolor="#cccccc",
    gridwidth=1,
    zeroline=False,
    showline=True,
    linecolor="#cccccc",
    linewidth=1,
    mirror=True,
    ticks="",
    automargin=False,
    tickvals=[0.0, 0.2, 0.4, 0.6, 0.8, 1.0],
    ticktext=["0.0", "0.2", "0.4", "0.6", "0.8", "1.0"],
    tickfont=dict(family="Liberation Sans", size=54, color="#262626"),
)
fig.update_xaxes(range=[-0.0287, 1.049], ticklabelstandoff=-18, **eje)
fig.update_yaxes(range=[-0.049, 1.044], **eje)

fig.update_layout(
    width=1200,
    height=1050,
    showlegend=False,
    plot_bgcolor="white",
    paper_bgcolor="white",
    margin=dict(l=89, r=20, t=4, b=71),
)

fig.write_html("out.html")
